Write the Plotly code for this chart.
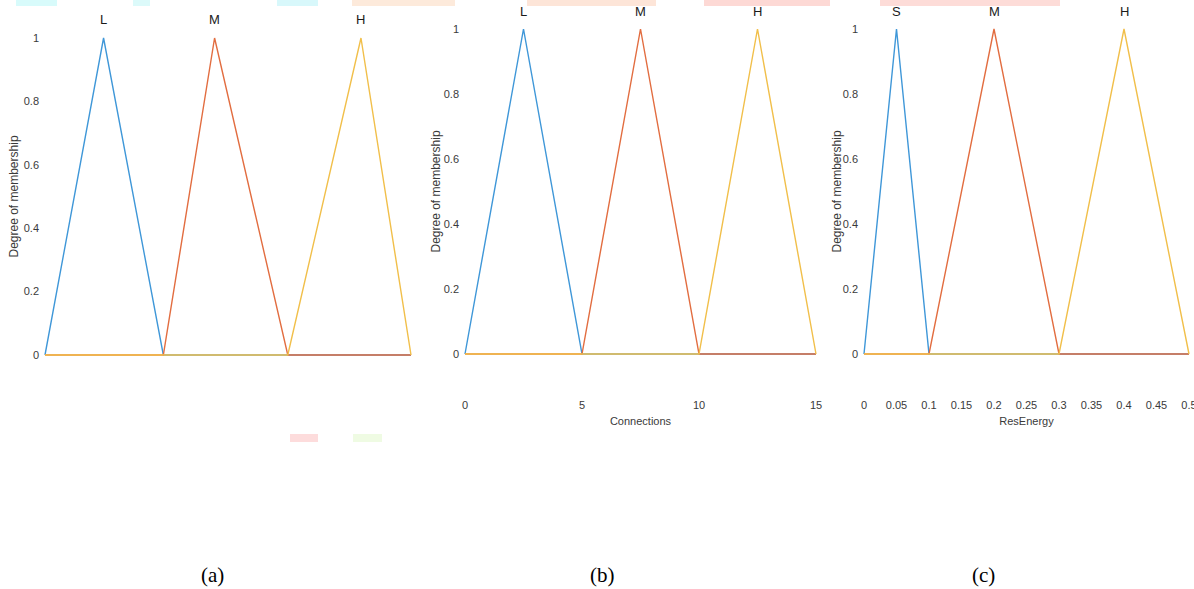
import plotly.graph_objects as go

W, H = 1194, 589

# ---- data ----
# panel (a): unnamed input (x axis not shown), universe 0..3
a_universe = [0.0, 3.0]
a_names = ["L", "M", "H"]
a_params = [[0.0, 0.48, 0.97], [0.97, 1.39, 1.99], [1.99, 2.59, 3.0]]

# panel (b): Connections
b_universe = [0.0, 15.0]
b_names = ["L", "M", "H"]
b_params = [[0.0, 2.5, 5.0], [5.0, 7.5, 10.0], [10.0, 12.5, 15.0]]
b_ticks = [0, 5, 10, 15]

# panel (c): ResEnergy
c_universe = [0.0, 0.5]
c_names = ["S", "M", "H"]
c_params = [[0.0, 0.05, 0.1], [0.1, 0.2, 0.3], [0.3, 0.4, 0.5]]
c_ticks = [0, 0.05, 0.1, 0.15, 0.2, 0.25, 0.3, 0.35, 0.4, 0.45, 0.5]
c_ticktext = ["0", "0.05", "0.1", "0.15", "0.2", "0.25", "0.3", "0.35", "0.4", "0.45", "0.5"]

y_ticks = [0, 0.2, 0.4, 0.6, 0.8, 1]
y_ticktext = ["0", "0.2", "0.4", "0.6", "0.8", "1"]
captions = ["(a)", "(b)", "(c)"]

colors = ["#3f97d8", "#e26d40", "#f1bf4a"]

# ---- layout geometry (pixels) ----
panels = [
    dict(uni=a_universe, names=a_names, params=a_params, px=(45, 411), py=(355, 38), ylab_x=13, cap_x=212),
    dict(uni=b_universe, names=b_names, params=b_params, px=(465, 816), py=(354, 29), ylab_x=435, cap_x=602),
    dict(uni=c_universe, names=c_names, params=c_params, px=(864, 1189), py=(354, 29), ylab_x=836, cap_x=983),
]

SANS = "Liberation Sans, Arial, sans-serif"

fig = go.Figure()
annotations = []
layout_axes = {}
tfont = dict(family=SANS, size=11, color="#3a3a3a")

for i, p in enumerate(panels):
    idx = "" if i == 0 else str(i + 1)
    u0, u1 = p["uni"]
    x0, x1 = p["px"]
    yb, yt = p["py"]
    ux = (u1 - u0) / (x1 - x0)
    padx = 3 * ux
    xr = [u0 - padx, u1 + padx]
    xdom = [(x0 - 3) / W, (x1 + 3) / W]
    uy = 1.0 / (yb - yt)
    pady = 6 * uy
    yr = [-pady, 1 + pady]
    ydom = [1 - (yb + 6) / H, 1 - (yt - 6) / H]

    for j, (nm, (a, b, c)) in enumerate(zip(p["names"], p["params"])):
        xs = [u0, a, b, c, u1]
        ys = [0, 0, 1, 0, 0]
        fig.add_trace(go.Scatter(
            x=xs, y=ys, mode="lines", name=nm,
            line=dict(color=colors[j], width=1.4),
            xaxis="x" + idx, yaxis="y" + idx, showlegend=False,
            hoverinfo="skip",
        ))
        annotations.append(dict(
            x=b, y=1, xref="x" + idx, yref="y" + idx, text=nm, showarrow=False,
            yshift=18, font=dict(family=SANS, size=13, color="#1a1a1a"),
        ))

    xa = dict(domain=xdom, range=xr, showgrid=False, zeroline=False, showline=False,
              ticks="", anchor="y" + idx, automargin=False, tickfont=tfont,
              ticklabeloverflow="allow")
    if i == 0:
        xa.update(showticklabels=False)
    elif i == 1:
        xa.update(tickmode="array", tickvals=b_ticks, ticktext=[str(t) for t in b_ticks],
                  ticklabelstandoff=37,
                  title=dict(text="Connections", standoff=7, font=tfont))
    else:
        xa.update(tickmode="array", tickvals=c_ticks, ticktext=c_ticktext,
                  ticklabelstandoff=37,
                  title=dict(text="ResEnergy", standoff=7, font=tfont))
    ya = dict(domain=ydom, range=yr, showgrid=False, zeroline=False, showline=False,
              ticks="", anchor="x" + idx, tickmode="array", tickvals=y_ticks,
              ticktext=y_ticktext, ticklabelstandoff=2, automargin=False, tickfont=tfont)
    layout_axes["xaxis" + idx] = xa
    layout_axes["yaxis" + idx] = ya

    annotations.append(dict(
        x=p["ylab_x"] / W, y=1 - ((yb + yt) / 2) / H, xref="paper", yref="paper",
        xanchor="center", yanchor="middle",
        text="Degree of membership", textangle=-90, showarrow=False,
        font=dict(family=SANS, size=12, color="#3a3a3a"),
    ))
    annotations.append(dict(
        x=p["cap_x"] / W, y=1 - 575 / H, xref="paper", yref="paper",
        xanchor="center", yanchor="middle",
        text=captions[i], showarrow=False,
        font=dict(family="Liberation Serif, Times New Roman", size=21, color="#000000"),
    ))

# faint scan artifacts (coloured smudges)
shapes = []
for (sx0, sx1, sy0, sy1, col) in [
        (16, 57, 0, 6, "#d8fbfb"), (133, 150, 0, 6, "#dcfafa"), (277, 318, 0, 6, "#d8f8fb"),
        (352, 455, 0, 6, "#fdeadb"), (527, 656, 0, 6, "#fde5d8"), (704, 830, 0, 6, "#fdd9d5"),
        (880, 1060, 0, 6, "#fddcd8"),
        (290, 318, 434, 442, "#fddcdc"), (353, 382, 434, 442, "#effbe3")]:
    shapes.append(dict(type="rect", xref="paper", yref="paper", x0=sx0 / W, x1=sx1 / W,
                       y0=1 - sy1 / H, y1=1 - sy0 / H, fillcolor=col, line=dict(width=0),
                       layer="below"))

fig.update_layout(
    width=W, height=H, margin=dict(l=0, r=0, t=0, b=0, autoexpand=False),
    paper_bgcolor="white", plot_bgcolor="white",
    annotations=annotations, shapes=shapes, **layout_axes,
)

fig.write_html(
    "out.html",
    config={"displayModeBar": False},
    post_script="document.body.style.margin='0';document.body.style.overflow='hidden';",
)
